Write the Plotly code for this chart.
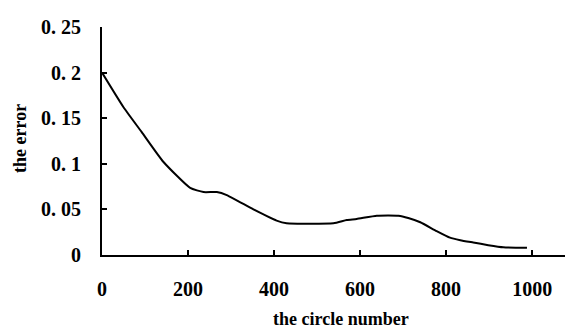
import plotly.graph_objects as go

circle_number = [0, 50, 92, 143, 205, 236, 267, 290, 352, 406, 429, 538, 569, 592, 639, 689, 712, 740, 778, 809, 833, 863, 898, 933, 988]
error = [0.200, 0.162, 0.135, 0.102, 0.0736, 0.069, 0.069, 0.0657, 0.050, 0.0377, 0.0348, 0.0348, 0.0384, 0.0395, 0.0431, 0.0431, 0.0406, 0.0359, 0.0262, 0.019, 0.0162, 0.0137, 0.0108, 0.0085, 0.0079]

x_ticks = [0, 200, 400, 600, 800, 1000]
x_ticklabels = ["0", "200", "400", "600", "800", "1000"]
y_ticks = [0, 0.05, 0.1, 0.15, 0.2, 0.25]
y_ticklabels = ["0", "0. 05", "0. 1", "0. 15", "0. 2", "0. 25"]

tick_font = dict(family="Liberation Serif", size=20, color="black", weight="bold")
title_font = dict(family="Liberation Serif", size=18, color="black", weight="bold")

fig = go.Figure()
fig.add_trace(go.Scatter(x=circle_number, y=error, mode="lines",
                         line=dict(color="black", width=2, shape="spline", smoothing=0.5),
                         showlegend=False, hoverinfo="skip"))

# page body has an 8px default margin, so margins are offset by 8px
fig.update_layout(
    width=573, height=332,
    margin=dict(l=94, r=8, t=15, b=85),
    paper_bgcolor="white", plot_bgcolor="white",
    xaxis=dict(range=[0, 1095], tickmode="array", tickvals=x_ticks, ticktext=x_ticklabels,
               showgrid=False, zeroline=False, showline=True, linecolor="black", linewidth=2,
               ticks="inside", ticklen=5, tickwidth=2, tickcolor="black",
               ticklabelstandoff=15, tickfont=tick_font),
    yaxis=dict(range=[0, 0.25], tickmode="array", tickvals=y_ticks, ticktext=y_ticklabels,
               showgrid=False, zeroline=False, showline=True, linecolor="black", linewidth=2,
               ticks="inside", ticklen=5, tickwidth=2, tickcolor="black",
               ticklabelstandoff=15, tickfont=tick_font),
    annotations=[
        dict(text="the circle number", xref="paper", yref="paper", x=0.507, y=-0.28,
             xanchor="center", yanchor="middle", showarrow=False, font=title_font),
        dict(text="the error", xref="paper", yref="paper", x=-0.174, y=0.509,
             xanchor="center", yanchor="middle", showarrow=False, textangle=-90,
             font=title_font),
    ],
)

fig.write_html("out.html")
